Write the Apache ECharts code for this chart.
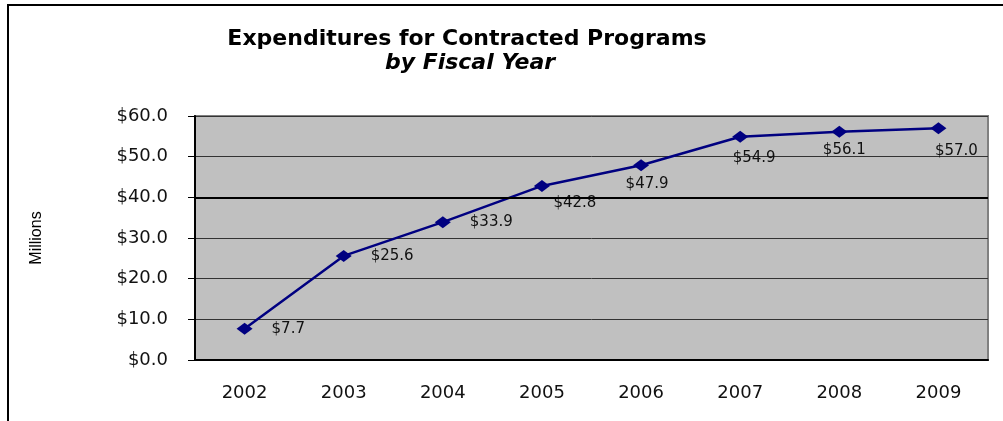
<!DOCTYPE html>
<html>
<head>
<meta charset="utf-8">
<script src="https://cdn.jsdelivr.net/npm/echarts@6/dist/echarts.min.js"></script>
<style>
  html, body { margin: 0; padding: 0; background: #fff; }
  #chart { width: 1003px; height: 421px; }
</style>
</head>
<body>
<div id="chart"></div>
<script>
var years = ['2002', '2003', '2004', '2005', '2006', '2007', '2008', '2009'];
var spending = [7.7, 25.6, 33.9, 42.8, 47.9, 54.9, 56.1, 57.0];
// where Excel put each data label
var labelPos = ['right', 'right', 'right', 'bottom', 'bottom', 'bottom', 'bottom', 'bottom'];
var labelShift = [[0, 0], [0, 0], [0, 0], [33, 0], [6, 1], [14, 4], [5, 1], [18, 5]];

var myChart = echarts.init(document.getElementById('chart'));

var pts = spending.map(function (v, i) {
    return {
        value: v,
        label: {
            position: labelPos[i],
            offset: labelShift[i],
            distance: labelPos[i] == 'right' ? 19 : 4
        }
    };
});

var font = '"DejaVu Sans", Verdana, sans-serif';

var option = {
    animation: false,
    textStyle: { fontFamily: font },
    graphic: [{
        type: 'rect',
        shape: { x: 8, y: 5, width: 1100, height: 500 },
        style: { fill: 'none', stroke: '#000', lineWidth: 2 },
        silent: true
    }, {
        type: 'text',
        x: 467,
        y: 28,
        style: {
            text: 'Expenditures for Contracted Programs',
            font: 'bold 22px ' + font,
            fill: '#000',
            align: 'center'
        }
    }, {
        type: 'text',
        x: 470,
        y: 52,
        style: {
            text: 'by Fiscal Year',
            font: 'italic bold 22px ' + font,
            fill: '#000',
            align: 'center'
        }
    }],
    grid: {
        left: 195,
        right: 15,
        top: 116,
        bottom: 61,
        show: true,
        backgroundColor: '#c0c0c0',
        borderColor: '#808080',
        borderWidth: 2
    },
    xAxis: {
        type: 'category',
        data: years,
        boundaryGap: true,
        axisLine: { lineStyle: { color: '#000', width: 2 } },
        axisTick: { length: 6, lineStyle: { color: '#000' } },
        axisLabel: { margin: 24, fontSize: 18, color: '#111' }
    },
    yAxis: {
        type: 'value',
        min: 0,
        max: 60,
        interval: 10,
        name: 'Millions',
        nameLocation: 'middle',
        nameRotate: 90,
        nameGap: 150,
        nameTextStyle: { fontSize: 16, color: '#000', fontFamily: '"Liberation Sans", Arial, sans-serif' },
        axisLine: { show: true, lineStyle: { color: '#000', width: 2 } },
        axisTick: { show: true, length: 7, lineStyle: { color: '#000' } },
        axisLabel: {
            margin: 27,
            fontSize: 18,
            color: '#111',
            formatter: function (v) { return '$' + v.toFixed(1); }
        },
        splitLine: { lineStyle: { color: '#333', width: 1 } }
    },
    series: [{
        type: 'line',
        data: pts,
        symbol: 'diamond',
        symbolSize: [16, 12],
        lineStyle: { color: '#000080', width: 2.5 },
        itemStyle: { color: '#000080' },
        label: {
            show: true,
            fontSize: 15,
            color: '#111',
            formatter: function (p) { return '$' + p.value.toFixed(1); }
        },
        markLine: {
            silent: true,
            symbol: 'none',
            label: { show: false },
            lineStyle: { color: '#000', width: 2, type: 'solid' },
            data: [{ yAxis: 40 }]
        }
    }]
};

myChart.setOption(option);
</script>
</body>
</html>
